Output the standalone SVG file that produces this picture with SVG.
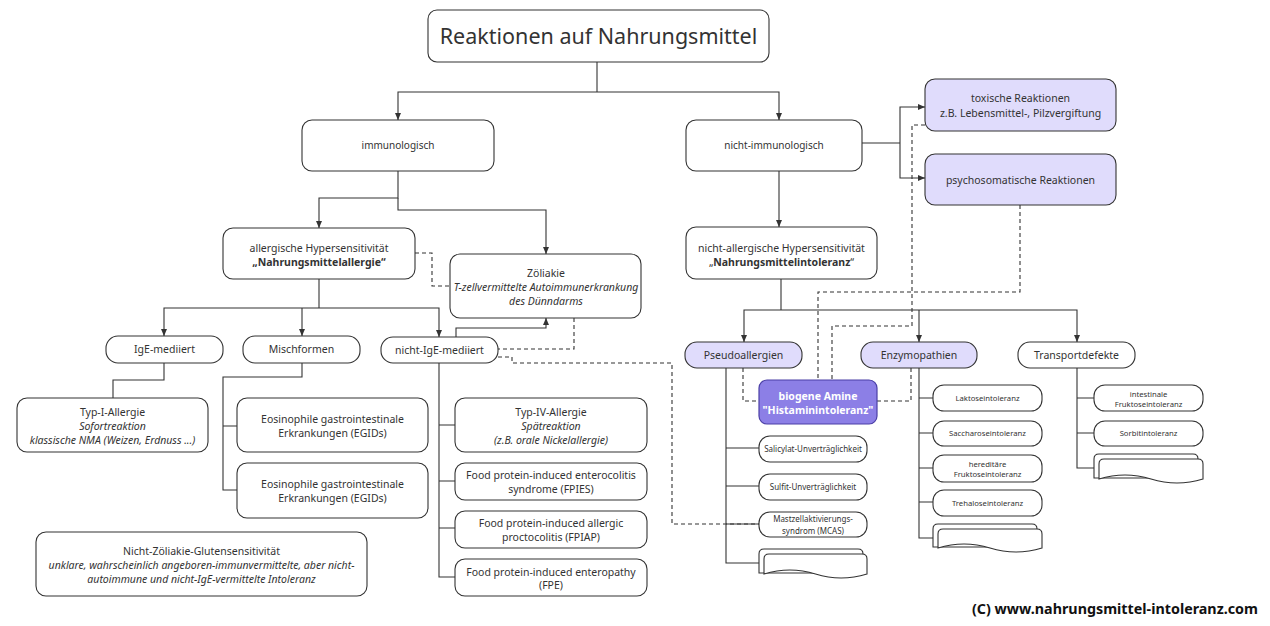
<svg xmlns="http://www.w3.org/2000/svg" width="1270" height="626" viewBox="0 0 1270 626">
<defs>
<style>
.n{fill:#fff;stroke:#333;stroke-width:1.1}
.l{fill:#e0dcfc;stroke:#333;stroke-width:1.1}
.b{fill:#8c7fe6;stroke:#4b3fa6;stroke-width:1.2}
.t{font-family:"Noto Sans","Open Sans",sans-serif;fill:#333;text-anchor:middle;font-size:10.5px}
.s{font-size:8px}
.xs{font-size:7.7px}
.i{font-style:italic}
.bd{font-weight:bold}
.e{fill:none;stroke:#333;stroke-width:1.1}
.d{stroke-dasharray:4 3}
.a{marker-end:url(#arr)}
</style>
<marker id="arr" markerUnits="userSpaceOnUse" markerWidth="7" markerHeight="6" refX="7" refY="3" orient="auto">
<path d="M0,0 L7,3 L0,6 z" fill="#333"/>
</marker>
</defs>
<rect width="1270" height="626" fill="#fff"/>
<g id="connectors">
<path class="e" d="M597,62 V92"/>
<path class="e a" d="M597,92 H398 V120"/>
<path class="e a" d="M597,92 H779 V120"/>
<path class="e" d="M862,143 H900"/>
<path class="e a" d="M900,143 V107 H925"/>
<path class="e a" d="M900,143 V178 H925"/>
<path class="e a" d="M398,171 V198 H319 V228"/>
<path class="e a" d="M398,198 V210 H546 V254"/>
<path class="e d" d="M415,253 H432 V286 H450"/>
<path class="e" d="M319,279 V308"/>
<path class="e a" d="M319,308 H164 V336"/>
<path class="e a" d="M302,308 V336"/>
<path class="e a" d="M319,308 H439 V337"/>
<path class="e a" d="M456,337 V328 H546 V318"/>
<path class="e d" d="M574,318 V349 H498"/>
<path class="e d" d="M498,357 H512 V363 H672 V524 H759"/>
<path class="e" d="M164,363 V380 H113 V398"/>
<path class="e" d="M302,363 V377 H223 V490 H237 M223,426 H237"/>
<path class="e" d="M439,363 V577 H455 M439,425 H455 M439,481 H455 M439,528 H455"/>
<path class="e a" d="M779,171 V227"/>
<path class="e" d="M781,279 V310"/>
<path class="e a" d="M781,310 H744 V342"/>
<path class="e a" d="M781,310 H1077 V342"/>
<path class="e a" d="M919,310 V342"/>
<path class="e d" d="M743,368 V401 H759"/>
<path class="e d" d="M911,368 V401 H877"/>
<path class="e d" d="M925,125 H912 V326 H832 V380"/>
<path class="e d" d="M1020,205 V292 H818 V380"/>
<path class="e" d="M726,368 V563 H764 M726,448 H759 M726,486 H759 M726,524 H759"/>
<path class="e" d="M919,368 V538 H938 M919,398 H933 M919,433 H933 M919,468 H933 M919,502 H933"/>
<path class="e" d="M1077,368 V468 H1099 M1077,398 H1094 M1077,433 H1094"/>
</g>
<g id="title"><rect class="n" x="428" y="10" width="341" height="52" rx="9"/><text class="t" x="598.5" y="43.5" style="font-size:21.5px">Reaktionen auf Nahrungsmittel</text></g>
<g id="immunologisch"><rect class="n" x="302" y="120" width="192" height="51" rx="10"/><text class="t" x="398" y="149" style="font-size:10px">immunologisch</text></g>
<g id="nicht-immunologisch"><rect class="n" x="686" y="120" width="176" height="51" rx="10"/><text class="t" x="774" y="149" style="font-size:10px">nicht-immunologisch</text></g>
<g id="toxisch"><rect class="l" x="925" y="79" width="191" height="52" rx="10"/><text class="t" x="1020.5" y="101.5">toxische Reaktionen</text><text class="t" x="1020.5" y="116.5">z.B. Lebensmittel-, Pilzvergiftung</text></g>
<g id="psychosomatisch"><rect class="l" x="925" y="154" width="191" height="51" rx="10"/><text class="t" x="1020.5" y="183.5">psychosomatische Reaktionen</text></g>
<g id="allergisch"><rect class="n" x="223" y="228" width="192" height="51" rx="10"/><text class="t" x="319" y="251.5">allergische Hypersensitivität</text><text class="t bd" x="319" y="265.5">„Nahrungsmittelallergie“</text></g>
<g id="zoeliakie"><rect class="n" x="450" y="254" width="191" height="64" rx="10"/><text class="t" x="546" y="276.5">Zöliakie</text><text class="t i" x="546" y="290.5">T-zellvermittelte Autoimmunerkrankung</text><text class="t i" x="546" y="304.5">des Dünndarms</text></g>
<g id="ige"><rect class="n" x="106" y="336" width="117" height="27" rx="12"/><text class="t" x="164.5" y="353">IgE-mediiert</text></g>
<g id="misch"><rect class="n" x="243" y="336" width="117" height="27" rx="12"/><text class="t" x="301.5" y="353">Mischformen</text></g>
<g id="nicht-ige"><rect class="n" x="381" y="337" width="117" height="26" rx="12"/><text class="t" x="439.5" y="353.5">nicht-IgE-mediiert</text></g>
<g id="typ1"><rect class="n" x="17" y="398" width="191" height="54" rx="10"/><text class="t" x="112.5" y="415.5">Typ-I-Allergie</text><text class="t i" x="112.5" y="429.5">Sofortreaktion</text><text class="t i" x="112.5" y="444">klassische NMA (Weizen, Erdnuss ...)</text></g>
<g id="egid1"><rect class="n" x="237" y="398" width="191" height="54" rx="10"/><text class="t" x="332.5" y="422.5">Eosinophile gastrointestinale</text><text class="t" x="332.5" y="436.5">Erkrankungen (EGIDs)</text></g>
<g id="egid2"><rect class="n" x="237" y="463" width="191" height="55" rx="10"/><text class="t" x="332.5" y="487.5">Eosinophile gastrointestinale</text><text class="t" x="332.5" y="501.5">Erkrankungen (EGIDs)</text></g>
<g id="ncgs"><rect class="n" x="36" y="532" width="331" height="64" rx="10"/><text class="t" x="201.5" y="554.5">Nicht-Zöliakie-Glutensensitivität</text><text class="t i" x="201.5" y="568.5">unklare, wahrscheinlich angeboren-immunvermittelte, aber nicht-</text><text class="t i" x="201.5" y="582.5">autoimmune und nicht-IgE-vermittelte Intoleranz</text></g>
<g id="typ4"><rect class="n" x="455" y="398" width="192" height="54" rx="10"/><text class="t" x="551" y="415.5">Typ-IV-Allergie</text><text class="t i" x="551" y="429.5">Spätreaktion</text><text class="t i" x="551" y="444">(z.B. orale Nickelallergie)</text></g>
<g id="fpies"><rect class="n" x="455" y="463" width="192" height="37" rx="10"/><text class="t" x="551" y="478.5">Food protein-induced enterocolitis</text><text class="t" x="551" y="492.5">syndrome (FPIES)</text></g>
<g id="fpiap"><rect class="n" x="455" y="511" width="192" height="37" rx="10"/><text class="t" x="551" y="526.5">Food protein-induced allergic</text><text class="t" x="551" y="540.5">proctocolitis (FPIAP)</text></g>
<g id="fpe"><rect class="n" x="455" y="559" width="192" height="37" rx="10"/><text class="t" x="551" y="575.5">Food protein-induced enteropathy</text><text class="t" x="551" y="589">(FPE)</text></g>
<g id="nicht-allergisch"><rect class="n" x="686" y="227" width="191" height="52" rx="10"/><text class="t" x="781.5" y="251.5">nicht-allergische Hypersensitivität</text><text class="t" x="781.5" y="265.5">„<tspan class="bd">Nahrungsmittelintoleranz</tspan>“</text></g>
<g id="pseudo"><rect class="l" x="685" y="342" width="117" height="26" rx="12"/><text class="t" x="743.5" y="358.5">Pseudoallergien</text></g>
<g id="enzymo"><rect class="l" x="861" y="342" width="116" height="26" rx="12"/><text class="t" x="919" y="358.5">Enzymopathien</text></g>
<g id="transport"><rect class="n" x="1018" y="342" width="117" height="26" rx="12"/><text class="t" x="1076.5" y="358.5">Transportdefekte</text></g>
<g id="biogen"><rect class="b" x="759" y="380" width="118" height="44" rx="8"/><text class="t bd" x="818" y="399.5" style="fill:#fff">biogene Amine</text><text class="t bd" x="818" y="413.5" style="fill:#fff">"Histaminintoleranz"</text></g>
<g id="salicylat"><rect class="n" x="759" y="436" width="108" height="26" rx="11"/><text class="t s" x="813" y="452">Salicylat-Unverträglichkeit</text></g>
<g id="sulfit"><rect class="n" x="759" y="474" width="108" height="26" rx="11"/><text class="t s" x="813" y="490">Sulfit-Unverträglichkeit</text></g>
<g id="mcas"><rect class="n" x="759" y="512" width="108" height="25" rx="11"/><text class="t s" x="813" y="522">Mastzellaktivierungs-</text><text class="t s" x="813" y="534">syndrom (MCAS)</text></g>
<g id="pseudo-more"><path class="n" d="M759,573 V554 Q759,549 764,549 H858 Q863,549 863,554 V573 Z"/><path class="n" d="M764,574 V559 Q764,554 769,554 H862 Q867,554 867,559 V574 Q841,582 815.5,574 Q790,566 764,574 Z"/></g>
<g id="laktose"><rect class="n" x="933" y="385" width="109" height="26" rx="11"/><text class="t xs" x="987.5" y="400.5">Laktoseintoleranz</text></g>
<g id="saccharose"><rect class="n" x="933" y="421" width="109" height="25" rx="11"/><text class="t xs" x="987.5" y="436">Saccharoseintoleranz</text></g>
<g id="hereditaer"><rect class="n" x="933" y="455" width="109" height="27" rx="11"/><text class="t xs" x="987.5" y="466.5">hereditäre</text><text class="t xs" x="987.5" y="477">Fruktoseintoleranz</text></g>
<g id="trehalose"><rect class="n" x="933" y="490" width="109" height="26" rx="11"/><text class="t xs" x="987.5" y="505.5">Trehaloseintoleranz</text></g>
<g id="enzymo-more"><path class="n" d="M933,547 V529 Q933,524 938,524 H1032 Q1037,524 1037,529 V547 Z"/><path class="n" d="M938,548 V534 Q938,529 943,529 H1037 Q1042,529 1042,534 V548 Q1016,556 990,548 Q964,540 938,548 Z"/></g>
<g id="intestinal"><rect class="n" x="1094" y="385" width="109" height="26" rx="11"/><text class="t xs" x="1148.5" y="396.5">intestinale</text><text class="t xs" x="1148.5" y="407">Fruktoseintoleranz</text></g>
<g id="sorbit"><rect class="n" x="1094" y="421" width="109" height="25" rx="11"/><text class="t xs" x="1148.5" y="436">Sorbitintoleranz</text></g>
<g id="transport-more"><path class="n" d="M1094,478 V459 Q1094,454 1099,454 H1193 Q1198,454 1198,459 V478 Z"/><path class="n" d="M1099,479 V464 Q1099,459 1104,459 H1198 Q1203,459 1203,464 V479 Q1177,487 1151,479 Q1125,471 1099,479 Z"/></g>
<text x="972" y="614" textLength="286" lengthAdjust="spacingAndGlyphs" style="font-family:'Noto Sans','Open Sans',sans-serif;font-weight:bold;font-size:14px;fill:#111">(C) www.nahrungsmittel-intoleranz.com</text>
</svg>
